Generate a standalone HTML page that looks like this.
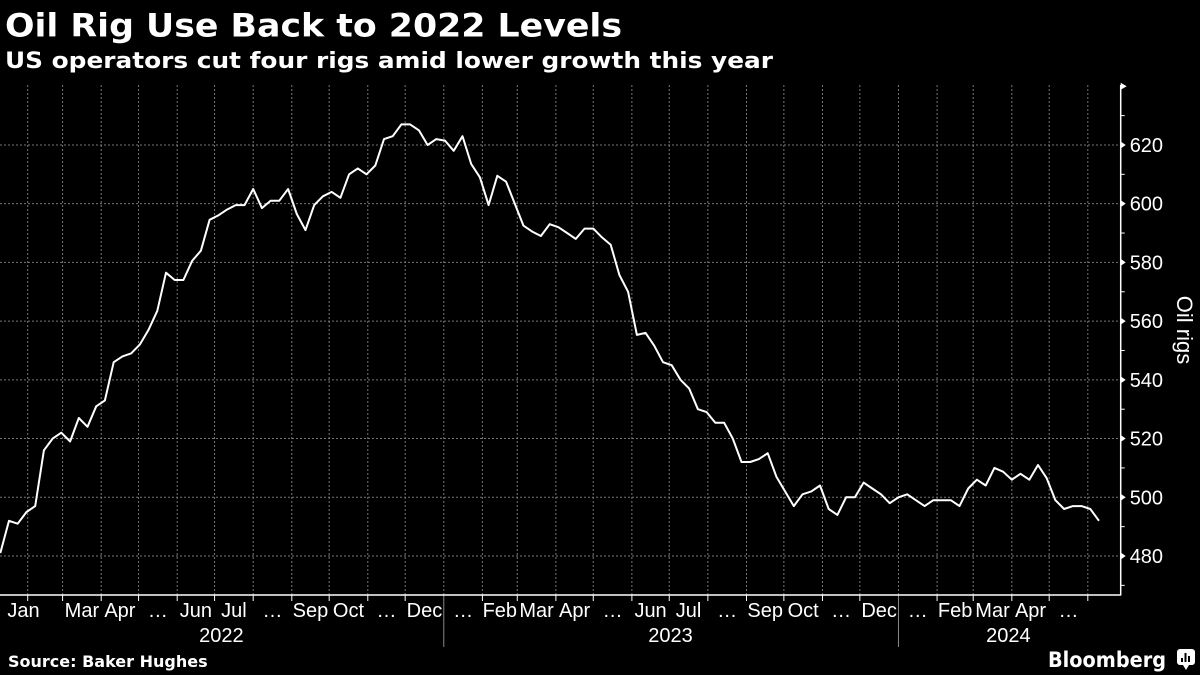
<!DOCTYPE html>
<html><head><meta charset="utf-8"><style>
html,body{margin:0;padding:0;background:#000;}
svg{display:block;}
text{font-family:"DejaVu Sans","Liberation Sans",sans-serif;fill:#fff;}
.ax{font-family:"Liberation Sans","DejaVu Sans",sans-serif;}
</style></head><body>
<svg id="chart" width="1200" height="675" viewBox="0 0 1200 675">
<rect width="1200" height="675" fill="#000"/>
<text x="5" y="36.5" font-size="32" font-weight="bold" textLength="617" lengthAdjust="spacingAndGlyphs">Oil Rig Use Back to 2022 Levels</text>
<text x="5" y="68" font-size="22" font-weight="bold" textLength="768" lengthAdjust="spacingAndGlyphs">US operators cut four rigs amid lower growth this year</text>
<g id="grid"></g>
<g id="axes"></g>
<g id="series"></g>
<text class="ax" transform="translate(1177,330) rotate(90)" font-size="22" text-anchor="middle" fill="#ddd">Oil rigs</text>
<text x="8" y="667" font-size="16" font-weight="bold">Source: Baker Hughes</text>
<text x="1166" y="667" font-size="21" font-weight="bold" text-anchor="end" textLength="118" lengthAdjust="spacingAndGlyphs">Bloomberg</text>
<g>
<rect x="1177" y="649" width="18" height="16" rx="3" fill="#fff"/>
<path d="M1183 665 L1186 670 L1189 665 Z" fill="#fff"/>
<rect x="1181" y="658" width="2" height="4" fill="#000"/>
<rect x="1184.5" y="653" width="2" height="9" fill="#000"/>
<rect x="1188" y="656" width="2" height="6" fill="#000"/>
</g>
</svg>
<script>
const values = [481,492,491,495,497,516,520,522,519,527,524,531,533,546,548,549,552,557,563.5,576.5,574,574,580.5,584,594.5,596,598,599.5,599.5,605,598.5,601,601,605,596.5,591,599.5,602.5,604,602,610,612,610,613,622,623,627,627,625,620,622,621.5,618,623,613.5,609,599.5,609.5,607.5,600,592.5,590.5,589,593,592,590,588,591.5,591.5,588.5,586,575.7,570,555.3,556,551.6,546,545,540,537,530,529,525.4,525.4,520,512,512,513,515,507,502,497,501,502,504,496,494,500,500,505,503,501,498,500,501,499,497,499,499,499,497,503,506,504,510,508.7,506,508,506,511,506.5,499,496,497,497,496,492];
const yTicks = [480,500,520,540,560,580,600,620];
const yMinor = [470,490,510,530,550,570,590,610,630,640];
const monthLabels = ["Jan","Mar","Apr","…","Jun","Jul","…","Sep","Oct","…","Dec","…","Feb","Mar","Apr","…","Jun","Jul","…","Sep","Oct","…","Dec","…","Feb","Mar","Apr","…"];
const yearLabels = ["2022","2023","2024"];

const NS="http://www.w3.org/2000/svg";
const X0=0.3, STEP=8.72;
function xw(w){return X0+w*STEP;}
function y(v){return 556-(v-480)*2.936;}
const monthWeeks=[];
(function(){const start=new Date(2022,0,10);for(let m=1;m<=29;m++){const d=new Date(2022,m,1);monthWeeks.push((d-start)/(7*864e5));}})();
function mk(tag,attrs,parent){const e=document.createElementNS(NS,tag);for(const k in attrs)e.setAttribute(k,attrs[k]);parent.appendChild(e);return e;}
const grid=document.getElementById('grid'),axes=document.getElementById('axes'),series=document.getElementById('series');
const AX=1120.7, AY=595;
yTicks.forEach(v=>{
  const l=mk('line',{x1:0,x2:AX,y1:y(v),y2:y(v),stroke:'#777','stroke-width':1,'stroke-dasharray':'2,2'},grid);
  
  
  const t=mk('path',{d:`M${AX} ${y(v)-3.5} L${AX+5} ${y(v)} L${AX} ${y(v)+3.5} Z`,fill:'#fff'},axes);
  
  
  const tx=mk('text',{x:AX+9,y:y(v)+7,'font-size':20,'class':'ax'},axes);
  tx.textContent=v;
  
  
});
yMinor.forEach(v=>{
  const t=(v===640)?mk('path',{d:`M${AX} ${y(v)-3.5} L${AX+6} ${y(v)} L${AX} ${y(v)+3.5} Z`,fill:'#fff'},axes):mk('line',{x1:AX,x2:AX+4,y1:y(v),y2:y(v),stroke:'#fff','stroke-width':1},axes);
  
  
});
monthWeeks.forEach((w,i)=>{
  const x=xw(w);
  if(x>AX)return;
  const isYear=(i===11||i===23);
  const g=mk('line',{x1:x,x2:x,y1:85,y2:AY,stroke:'#777','stroke-width':1,'stroke-dasharray':'2,2'},grid);
  
  
  const t=mk('line',{x1:x,x2:x,y1:AY,y2:isYear?647:601,stroke:isYear?'#888':'#fff','stroke-width':1},axes);
  
  
});
monthLabels.forEach((lab,i)=>{
  let cx = i===0 ? 23.5 : (xw(monthWeeks[i])+xw(monthWeeks[i+1]))/2;
  const t=mk('text',{x:cx,y:617,'font-size':20,'text-anchor':'middle','class':'ax'},axes);
  t.textContent=lab;
  
  
});
const yearCenters=[221.4,670.5,1008.4];
yearLabels.forEach((lab,i)=>{
  const t=mk('text',{x:yearCenters[i],y:642,'font-size':20,'text-anchor':'middle','class':'ax'},axes);
  t.textContent=lab;
  
  
});
const xa=mk('line',{x1:0,x2:AX+0.5,y1:AY,y2:AY,stroke:'#fff','stroke-width':1.5},axes);


const ya=mk('line',{x1:AX,x2:AX,y1:85,y2:AY,stroke:'#fff','stroke-width':1.5},axes);


const pts=values.map((v,i)=>xw(i).toFixed(1)+','+y(v).toFixed(1)).join(' ');
const line=mk('polyline',{points:pts,fill:'none',stroke:'#fff','stroke-width':2,'stroke-linejoin':'round'},series);


</script>
</body></html>
